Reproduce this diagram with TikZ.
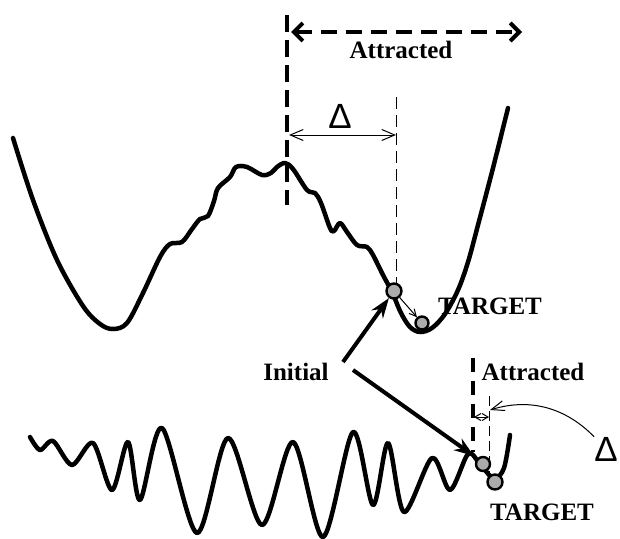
\documentclass[tikz,border=0pt]{standalone}
\usepackage{fontspec}
\setmainfont{Liberation Serif}
\newfontfamily\deltafont{Liberation Sans}
\usetikzlibrary{arrows.meta}
\tikzset{
  curve/.style={line width=4.5pt, line join=round, line cap=round},
  thickdash/.style={line width=4.5pt, dash pattern=on 17pt off 8pt},
  thindash/.style={line width=1pt, dash pattern=on 12pt off 6pt},
  ball/.style={circle, draw=black, line width=2.4pt, fill=black!33, minimum size=#1, inner sep=0pt},
  lab/.style={font=\bfseries\fontsize{25}{25}\selectfont, inner sep=0pt},
  dlab/.style={font=\deltafont\fontsize{35}{35}\selectfont, inner sep=0pt},
  bigarrow/.style={line width=4pt, -{Stealth[length=20pt,width=14pt]}},
  dasharrow/.style={line width=4pt, dash pattern=on 16pt off 9pt,
    {Straight Barb[length=9pt,width=18pt,line width=4pt]}-{Straight Barb[length=9pt,width=18pt,line width=4pt]}},
  deltaarrow/.style={line width=1pt, {Straight Barb[length=13pt,width=11pt]}-{Straight Barb[length=13pt,width=11pt]}},
  smallarrow/.style={line width=1pt, {Straight Barb[length=6pt,width=7pt]}-{Straight Barb[length=6pt,width=7pt]}},
}
\begin{document}
\begin{tikzpicture}[x=1pt,y=-1pt]
\useasboundingbox (0,0) rectangle (620,538);
% upper energy curve
\draw[curve] plot[smooth, tension=0.55] coordinates {
 (13,138) (33,200) (57,260) (83,306) (100,324) (113,329) (127,323) (143,293)
 (160,257) (170,244) (182,242) (192,229) (200,219) (208,216) (214,201) (218,188)
 (230,177) (236,167) (247,167) (262,175) (271,173) (277,167) (285,163)
 (293,169) (307,190) (315,193) (321,203) (330,228) (334,231) (340,223)
 (347,232) (357,245) (367,247) (373,255) (383,275) (392,292) (401,313)
 (410,327) (420,332) (432,328) (445,314) (458,290) (468,262) (478,225)
 (493,168) (508,108)};
% lower energy curve
\draw[curve] plot[smooth, tension=0.5] coordinates {
 (30,437) (40,450) (53,441) (72,465) (93,443) (112,490) (128,442) (140,500)
 (162,428) (197,533) (228,438) (262,525) (293,442) (323,537) (353,432)
 (373,505) (388,443) (404,512) (432,458) (450,490) (468,454) (480,464)
 (494,479) (504,468) (510,435)};
% upper dashed markers
\coordinate (ut) at (287,15);
\coordinate (ub) at (287,205);
\draw[thickdash] (ut) -- (ub);
\coordinate (vt) at (396,97);
\coordinate (vb) at (396,285);
\draw[thindash] (vt) -- (vb);
\coordinate (aL) at (291,32);
\coordinate (aR) at (522,32);
\draw[dasharrow] (aL) -- (aR);
\node[lab] (attrU) at (401,50) {Attracted};
\coordinate (dL) at (289,135);
\coordinate (dR) at (396,135);
\draw[deltaarrow] (dL) -- (dR);
\node[dlab] (deltaU) at (340,116) {Δ};
% upper balls
\node[ball=15pt] (b1) at (394,291) {};
\node[ball=13pt] (b2) at (422,323) {};
\draw[line width=1pt, -{Straight Barb[length=7pt,width=7pt]}] (b1) -- (b2);
\node[lab] (targU) at (490,306) {TARGET};
% initial
\node[lab] (init) at (296,372) {Initial};
\coordinate (i1) at (343,362);
\coordinate (i2) at (353,370);
\draw[bigarrow] (i1) -- (b1);
% lower dashed markers
\coordinate (lt) at (473,358);
\coordinate (lb) at (473,452);
\draw[line width=4.5pt, dash pattern=on 14pt off 9pt] (lt) -- (lb);
\coordinate (mt) at (489,396);
\coordinate (mb) at (489,472);
\draw[line width=1pt, dash pattern=on 10pt off 5pt] (mt) -- (mb);
\coordinate (sL) at (474,417);
\coordinate (sR) at (489,417);
\draw[smallarrow] (sL) -- (sR);
\node[lab] (attrL) at (533,372) {Attracted};
% lower balls
\node[ball=14pt] (c1) at (483,464) {};
\node[ball=15pt] (c2) at (495,482) {};
\coordinate (w2) at (474,456);
\draw[bigarrow] (i2) -- (w2);
\node[lab] (targL) at (542,512) {TARGET};
\node[dlab] (deltaL) at (606,449) {Δ};
\coordinate (ce) at (490,410);
\draw[line width=1pt, -{Straight Barb[length=13pt,width=10pt]}] (deltaL.north west) .. controls (570,412) and (535,396) .. (ce);
\end{tikzpicture}
\end{document}
